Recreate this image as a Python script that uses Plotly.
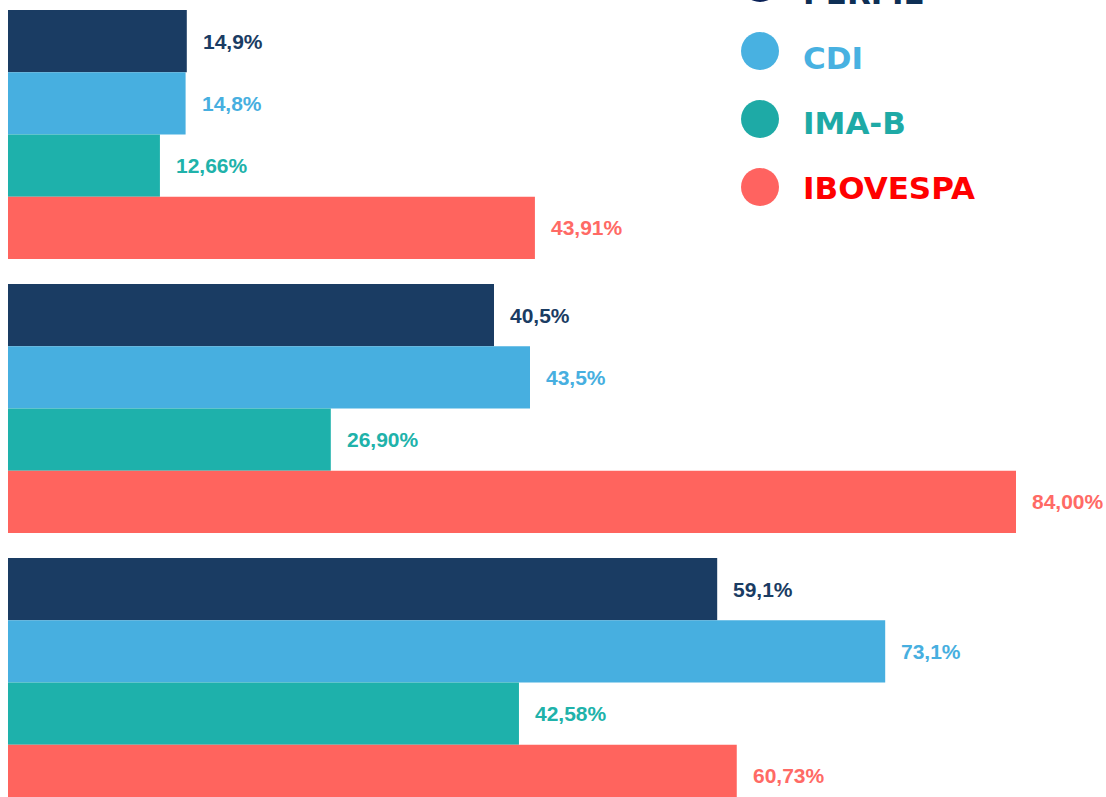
import plotly.graph_objects as go

# ---- data ----
periods = ["Período 1", "Período 2", "Período 3"]
series_names = ["PERFIL", "CDI", "IMA-B", "IBOVESPA"]
perfil = [14.9, 40.5, 59.1]
cdi = [14.8, 43.5, 73.1]
imab = [12.66, 26.90, 42.58]
ibov = [43.91, 84.00, 60.73]
perfil_labels = ["14,9%", "40,5%", "59,1%"]
cdi_labels = ["14,8%", "43,5%", "73,1%"]
imab_labels = ["12,66%", "26,90%", "42,58%"]
ibov_labels = ["43,91%", "84,00%", "60,73%"]

values = [perfil, cdi, imab, ibov]
labels = [perfil_labels, cdi_labels, imab_labels, ibov_labels]

# ---- styles ----
bar_colors = ["#1a3c63", "#47afe0", "#1eb1ab", "#ff645e"]
label_colors = ["#1a3c63", "#47afe0", "#20b2aa", "#ff6a65"]
legend_dot_colors = ["#0a2157", "#48b1e1", "#1eaaa6", "#ff6360"]
legend_text_colors = ["#0e2f55", "#48b1e1", "#1eaaa6", "#ff0000"]

W, H = 1106, 797
px_per_group = 274.0
bar_w = 62.3 / px_per_group
n_series = len(series_names)

fig = go.Figure()
annotations = []
for k, name in enumerate(series_names):
    ys = [g + (k - (n_series - 1) / 2) * bar_w for g in range(len(periods))]
    fig.add_trace(go.Bar(
        x=values[k], y=ys, orientation="h", width=bar_w,
        name=name, marker=dict(color=bar_colors[k], line=dict(width=0)),
        customdata=periods, hovertemplate="%{customdata}: %{x}<extra>" + name + "</extra>",
        showlegend=False,
    ))
    for g in range(len(periods)):
        annotations.append(dict(
            x=values[k][g], y=ys[g], xref="x", yref="y",
            text=labels[k][g], showarrow=False, xanchor="left", yanchor="middle",
            xshift=14,
            font=dict(family="Liberation Sans", size=21, color=label_colors[k], weight="bold"),
        ))

# custom legend (top right)
shapes = []
dot_cx = 760
dot_r = 19
for k, name in enumerate(series_names):
    cy = -17 + 68 * k
    ty = -7 + 65 * k
    shapes.append(dict(
        type="circle", xref="paper", yref="paper",
        xsizemode="pixel", ysizemode="pixel",
        xanchor=dot_cx / W, yanchor=1 - cy / H,
        x0=-dot_r, x1=dot_r, y0=-dot_r, y1=dot_r,
        fillcolor=legend_dot_colors[k], line=dict(width=0),
    ))
    annotations.append(dict(
        x=801 / W, y=1 - ty / H, xref="paper", yref="paper",
        text=name, showarrow=False, xanchor="left", yanchor="middle",
        font=dict(family="DejaVu Sans", size=31, color=legend_text_colors[k], weight="bold"),
    ))

y_top = -134.5 / px_per_group
y_bot = y_top + H / px_per_group
x_left = -8 / 12.0
x_right = x_left + W / 12.0

fig.update_layout(
    width=W, height=H,
    margin=dict(l=0, r=0, t=0, b=0),
    paper_bgcolor="white", plot_bgcolor="white",
    barmode="overlay",
    xaxis=dict(range=[x_left, x_right], visible=False, fixedrange=True),
    yaxis=dict(range=[y_bot, y_top], visible=False, fixedrange=True),
    annotations=annotations, shapes=shapes,
    showlegend=False,
)

fig.write_html(
    "out.html",
    config={"displayModeBar": False},
    post_script="document.body.style.margin='0';document.body.style.overflow='hidden';",
)
